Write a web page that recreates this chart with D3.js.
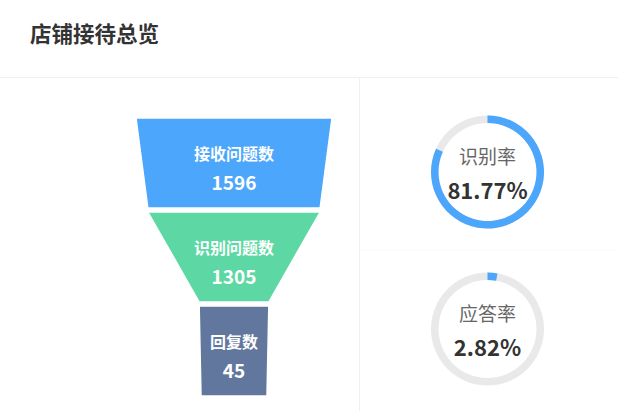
<!DOCTYPE html>
<html>
<head>
<meta charset="utf-8">
<script src="https://cdn.jsdelivr.net/npm/d3@7"></script>
<style>
    html, body { margin: 0; padding: 0; background: #fff; }
    svg { display: block; font-family: "Noto Sans CJK SC", "Noto Sans", sans-serif; }
</style>
</head>
<body>
<div id="chart"></div>
<script>
// funnel stages
const stageNames = ["接收问题数", "识别问题数", "回复数"];
const stageValues = [1596, 1305, 45];
const stageColors = ["#4ba6fc", "#5dd8a4", "#62779e"];

// rate gauges
const rateNames = ["识别率", "应答率"];
const rateValues = [81.77, 2.82];

const width = 618, height = 411;

const svg = d3.select("#chart")
    .append("svg")
    .attr("width", width)
    .attr("height", height);

// header
svg.append("text")
    .attr("x", 30)
    .attr("y", 42)
    .style("font-size", "21.5px")
    .style("font-weight", "bold")
    .style("fill", "#333")
    .text("店铺接待总览");

svg.append("line")
    .attr("x1", 0).attr("x2", width)
    .attr("y1", 77.5).attr("y2", 77.5)
    .attr("stroke", "#f0f0f0");

svg.append("line")
    .attr("x1", 359.5).attr("x2", 359.5)
    .attr("y1", 78).attr("y2", height)
    .attr("stroke", "#f0f0f0");

svg.append("line")
    .attr("x1", 360).attr("x2", width)
    .attr("y1", 250.5).attr("y2", 250.5)
    .attr("stroke", "#fafafa");

// funnel
const cx = 234;
let w = d3.scaleLinear()
    .domain([0, d3.max(stageValues)])
    .range([66, 196]);
let y = d3.scaleBand()
    .domain(stageNames)
    .range([118, 396])
    .paddingInner(0.0426);

let funnel = svg.append("g");
funnel.selectAll("path")
    .data(stageNames)
    .enter()
    .append("path")
    .attr("d", (d, i) => {
        let top = y(d), bottom = y(d) + y.bandwidth();
        let wt = w(stageValues[i]) / 2;
        let wb = w(i + 1 < stageValues.length ? stageValues[i + 1] : 0) / 2;
        return d3.line()([[cx - wt, top], [cx + wt, top], [cx + wb, bottom], [cx - wb, bottom]]) + "Z";
    })
    .attr("fill", (d, i) => stageColors[i])
    .attr("stroke", "#fff")
    .attr("stroke-width", 1.5);

funnel.selectAll(".name")
    .data(stageNames)
    .enter()
    .append("text")
    .attr("class", "name")
    .attr("x", cx)
    .attr("y", d => y(d) + 35)
    .attr("text-anchor", "middle")
    .attr("dominant-baseline", "central")
    .style("font-size", "16px")
    .style("font-weight", "bold")
    .style("fill", "#fff")
    .text(d => d);

funnel.selectAll(".value")
    .data(stageNames)
    .enter()
    .append("text")
    .attr("class", "value")
    .attr("x", cx)
    .attr("y", d => y(d) + 63)
    .attr("text-anchor", "middle")
    .attr("dominant-baseline", "central")
    .style("font-size", "19px")
    .style("font-weight", "bold")
    .style("fill", "#fff")
    .text((d, i) => stageValues[i]);

// gauges
let angle = d3.scaleLinear().domain([0, 100]).range([0, 2 * Math.PI]);
let arc = d3.arc().innerRadius(49).outerRadius(56.5);
let gy = d3.scalePoint().domain(rateNames).range([172, 329]);

let gauges = svg.selectAll(".gauge")
    .data(rateNames)
    .enter()
    .append("g")
    .attr("class", "gauge")
    .attr("transform", d => "translate(487.5," + gy(d) + ")");

gauges.append("path")
    .attr("d", arc({startAngle: 0, endAngle: 2 * Math.PI}))
    .attr("fill", "#e9e9e9");

gauges.append("path")
    .attr("d", (d, i) => arc({startAngle: 0, endAngle: angle(rateValues[i])}))
    .attr("fill", "#4ba6fc");

gauges.append("text")
    .attr("y", -17)
    .attr("text-anchor", "middle")
    .attr("dominant-baseline", "central")
    .style("font-size", "19px")
    .style("fill", "#666")
    .text(d => d);

gauges.append("text")
    .attr("y", 17)
    .attr("text-anchor", "middle")
    .attr("dominant-baseline", "central")
    .style("font-size", "22px")
    .style("font-weight", "bold")
    .style("fill", "#333")
    .text((d, i) => rateValues[i].toFixed(2) + "%");
</script>
</body>
</html>
